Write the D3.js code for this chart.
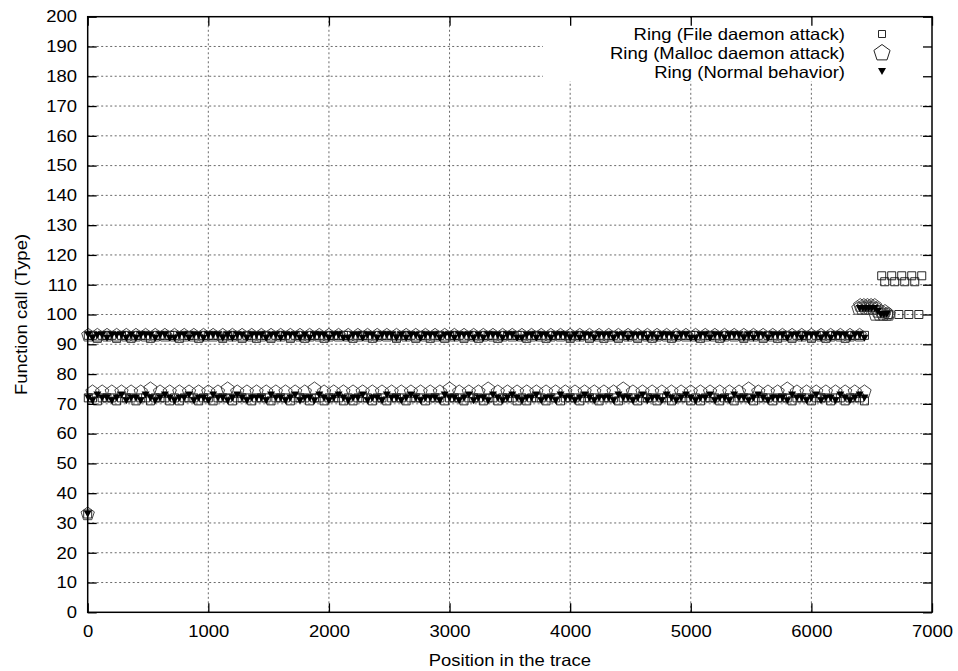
<!DOCTYPE html>
<html>
<head>
<meta charset="utf-8">
<script src="https://cdn.jsdelivr.net/npm/d3@7"></script>
<style>
  body { margin: 0; background: #fff; }
  svg { display: block; }
  text { font-family: "Liberation Sans", Arial, Helvetica, sans-serif; fill: #000; }
</style>
</head>
<body>
<svg id="chart" width="958" height="671"></svg>
<script>
// ---- axis ticks ----
const xTicks = [0, 1000, 2000, 3000, 4000, 5000, 6000, 7000];
const yTicks = [0, 10, 20, 30, 40, 50, 60, 70, 80, 90, 100, 110, 120, 130, 140, 150, 160, 170, 180, 190, 200];

// ---- series names (legend order) ----
const seriesNames = ["Ring (File daemon attack)", "Ring (Malloc daemon attack)", "Ring (Normal behavior)"];

// ---- sampled positions in the trace (shared by the three runs) ----
const tracePos = [
  0, 5, 40, 80, 120, 160, 200, 240, 280, 320, 360, 400, 440, 480, 520, 560, 600, 640, 680, 720, 760, 800, 840, 880, 920, 960,
  1000, 1040, 1080, 1120, 1160, 1200, 1240, 1280, 1320, 1360, 1400, 1440, 1480, 1520, 1560, 1600, 1640, 1680, 1720, 1760, 1800, 1840, 1880, 1920, 1960,
  2000, 2040, 2080, 2120, 2160, 2200, 2240, 2280, 2320, 2360, 2400, 2440, 2480, 2520, 2560, 2600, 2640, 2680, 2720, 2760, 2800, 2840, 2880, 2920, 2960,
  3000, 3040, 3080, 3120, 3160, 3200, 3240, 3280, 3320, 3360, 3400, 3440, 3480, 3520, 3560, 3600, 3640, 3680, 3720, 3760, 3800, 3840, 3880, 3920, 3960,
  4000, 4040, 4080, 4120, 4160, 4200, 4240, 4280, 4320, 4360, 4400, 4440, 4480, 4520, 4560, 4600, 4640, 4680, 4720, 4760, 4800, 4840, 4880, 4920, 4960,
  5000, 5040, 5080, 5120, 5160, 5200, 5240, 5280, 5320, 5360, 5400, 5440, 5480, 5520, 5560, 5600, 5640, 5680, 5720, 5760, 5800, 5840, 5880, 5920, 5960,
  6000, 6040, 6080, 6120, 6160, 6200, 6240, 6280, 6320, 6360, 6400, 6440
];

// ---- call types at each sampled position: upper call (~93) and lower call (~72) ----
const fileUpper = [33,
  93,93,92,93,93,93,92,93,93,92,93,93,93,92,93,93,93,93,
  93,92,93,93,93,92,93,93,93,93,92,93,93,93,92,93,93,92,
  93,93,92,93,93,93,92,93,93,92,93,93,93,92,93,93,93,93,
  93,92,93,93,93,92,93,93,93,93,92,93,93,93,92,93,93,92,
  93,93,92,93,93,93,92,93,93,92,93,93,93,92,93,93,93,93,
  93,92,93,93,93,92,93,93,93,93,92,93,93,93,92,93,93,92,
  93,93,92,93,93,93,92,93,93,92,93,93,93,92,93,93,93,93,
  93,92,93,93,93,92,93,93,93,93,92,93,93,93,92,93,93,92,
  93,93,92,93,93,93,92,93,93,92,93,93,93,92,93,93,93,93
];
const fileLower = [null,
  72,72,71,72,72,72,71,72,72,72,71,72,72,71,72,72,72,71,
  72,71,72,72,72,71,72,72,71,72,72,72,71,72,72,72,71,72,
  72,72,71,72,72,72,71,72,72,72,71,72,72,71,72,72,72,71,
  72,71,72,72,72,71,72,72,71,72,72,72,71,72,72,72,71,72,
  72,72,71,72,72,72,71,72,72,72,71,72,72,71,72,72,72,71,
  72,71,72,72,72,71,72,72,71,72,72,72,71,72,72,72,71,72,
  72,72,71,72,72,72,71,72,72,72,71,72,72,71,72,72,72,71,
  72,71,72,72,72,71,72,72,71,72,72,72,71,72,72,72,71,72,
  72,72,71,72,72,72,71,72,72,72,71,72,72,71,72,72,72,71
];
const mallocVals = [33,
  93,74, 93,74, 93,74, 93,74, 93,74, 93,74, 93,75, 93,74, 93,74, 93,74,
  93,74, 93,74, 93,74, 93,74, 93,75, 93,74, 93,74, 93,74, 93,74, 93,74,
  93,74, 93,74, 93,74, 93,75, 93,74, 93,74, 93,74, 93,74, 93,74, 93,74,
  93,74, 93,74, 93,74, 93,74, 93,74, 93,74, 93,74, 93,75, 93,74, 93,74,
  93,74, 93,75, 93,74, 93,74, 93,74, 93,74, 93,74, 93,74, 93,74, 93,74,
  93,74, 93,74, 93,74, 93,74, 93,74, 93,75, 93,74, 93,74, 93,74, 93,74,
  93,74, 93,74, 93,74, 93,74, 93,74, 93,74, 93,74, 93,74, 93,75, 93,74,
  93,74, 93,74, 93,75, 93,74, 93,74, 93,74, 93,74, 93,74, 93,74, 93,74,
  93,74
];
const normalUpper = [33,
  93,92,93,93,92,93,93,93,92,93,92,93,93,93,92,93,93,92,
  92,93,93,92,93,93,92,93,93,93,92,93,92,93,93,92,93,93,
  93,92,93,93,92,93,93,93,92,93,92,93,93,93,92,93,93,92,
  92,93,93,92,93,93,92,93,93,93,92,93,92,93,93,92,93,93,
  93,92,93,93,92,93,93,93,92,93,92,93,93,93,92,93,93,92,
  92,93,93,92,93,93,92,93,93,93,92,93,92,93,93,92,93,93,
  93,92,93,93,92,93,93,93,92,93,92,93,93,93,92,93,93,92,
  92,93,93,92,93,93,92,93,93,93,92,93,92,93,93,92,93,93,
  93,92,93,93,92,93,93,93,92,93,92,93,93,93,92,93,93,92
];
const normalLower = [null,
  72,71,73,72,72,71,72,73,71,72,72,71,73,72,71,72,73,72,
  71,72,72,73,71,72,72,71,73,72,72,71,72,73,72,71,72,72,
  72,71,73,72,72,71,72,73,71,72,72,71,73,72,71,72,73,72,
  71,72,72,73,71,72,72,71,73,72,72,71,72,73,72,71,72,72,
  72,71,73,72,72,71,72,73,71,72,72,71,73,72,71,72,73,72,
  71,72,72,73,71,72,72,71,73,72,72,71,72,73,72,71,72,72,
  72,71,73,72,72,71,72,73,71,72,72,71,73,72,71,72,73,72,
  71,72,72,73,71,72,72,71,73,72,72,71,72,73,72,71,72,72,
  72,71,73,72,72,71,72,73,71,72,72,71,73,72,71,72,73,72
];

// ---- calls after the shared part of the trace ----
const fileTailPos = [6583, 6608, 6640, 6666, 6691, 6725, 6749, 6774, 6808, 6832, 6857, 6891, 6915];
const fileTailVals = [113, 111, 100, 113, 111, 100, 113, 111, 100, 113, 111, 100, 113];
const mallocTailPos = [6390, 6405, 6420, 6435, 6450, 6465, 6480, 6495, 6510, 6525, 6540, 6530, 6550, 6565, 6580, 6595, 6610, 6625, 6640];
const mallocTailVals = [102, 103, 102, 103, 102, 103, 102, 103, 102, 103, 102, 100, 101, 100, 101, 100, 101, 100, 100];
const normalTailPos = [6400, 6425, 6450, 6475, 6500, 6525, 6550, 6575, 6600, 6625];
const normalTailVals = [102, 102, 102, 102, 102, 102, 101, 100, 100, 100];

// ---- layout ----
const svg = d3.select("#chart");
const x = d3.scaleLinear().domain([0, 7000]).range([87.7, 932]);
const y = d3.scaleLinear().domain([0, 200]).range([612.3, 16.7]);
const SX = 1.12;          // horizontal stretch of the lettering
const FS = 16.5;          // font size

const toPoints = (pos, vals) => pos.map((p, i) => ({ p, v: vals[i] })).filter(d => d.v != null);
const fileData = toPoints(tracePos, fileUpper)
  .concat(toPoints(tracePos, fileLower), toPoints(fileTailPos, fileTailVals));
const mallocData = toPoints(tracePos, mallocVals).concat(toPoints(mallocTailPos, mallocTailVals));
const normalData = toPoints(tracePos, normalUpper)
  .concat(toPoints(tracePos, normalLower), toPoints(normalTailPos, normalTailVals));

// ---- grid ----
const grid = svg.append("g").attr("stroke", "#444").attr("stroke-width", 0.8).attr("stroke-dasharray", "2,2.5");
grid.selectAll("line.gx").data(xTicks.slice(1, -1)).join("line")
  .attr("x1", d => x(d)).attr("x2", d => x(d)).attr("y1", y(0)).attr("y2", y(200));
grid.selectAll("line.gy").data(yTicks.slice(1, -1)).join("line")
  .attr("x1", x(0)).attr("x2", x(7000)).attr("y1", d => y(d)).attr("y2", d => y(d));

// opaque key box
svg.append("rect").attr("x", 543).attr("y", 18).attr("width", 388).attr("height", 63).attr("fill", "#fff");

// ---- point shapes ----
const squarePath = s => `M${-s},${-s}h${2 * s}v${2 * s}h${-2 * s}Z`;
const pentagonPath = r => {
  const pts = d3.range(5).map(k => {
    const a = -Math.PI / 2 + k * 2 * Math.PI / 5;
    return [r * Math.cos(a), r * Math.sin(a)];
  });
  return "M" + pts.map(p => p[0].toFixed(2) + "," + p[1].toFixed(2)).join("L") + "Z";
};
const triDownPath = (w, h) => `M${-w / 2},${-h / 2}L${w / 2},${-h / 2}L0,${h / 2}Z`;

const SQ = squarePath(4);
const PENT = pentagonPath(7);
const TRI = triDownPath(8, 7);

function drawPoints(data, d, fill, stroke, sw) {
  svg.append("g").selectAll("path").data(data).join("path")
    .attr("d", d)
    .attr("transform", e => `translate(${x(e.p)},${y(e.v)})`)
    .attr("fill", fill).attr("stroke", stroke).attr("stroke-width", sw);
}
drawPoints(fileData, SQ, "none", "#111", 0.9);
drawPoints(mallocData, PENT, "none", "#333", 0.9);
drawPoints(normalData, TRI, "#000", "none", 0);

// ---- axes (inward ticks on all four sides) ----
function styleText(g) {
  g.selectAll("text").attr("font-size", FS).attr("fill", "#000")
    .attr("font-family", '"Liberation Sans", Arial, Helvetica, sans-serif')
    .attr("transform", `scale(${SX},1)`);
}
const axisL = svg.append("g").attr("transform", `translate(${x(0)},0)`)
  .call(d3.axisLeft(y).tickValues(yTicks).tickSize(-9).tickPadding(9.5).tickFormat(d3.format("d")));
const axisB = svg.append("g").attr("transform", `translate(0,${y(0)})`)
  .call(d3.axisBottom(x).tickValues(xTicks).tickSize(-9).tickPadding(13).tickFormat(d3.format("d")));
const axisR = svg.append("g").attr("transform", `translate(${x(7000)},0)`)
  .call(d3.axisRight(y).tickValues(yTicks).tickSize(-9).tickFormat(""));
const axisT = svg.append("g").attr("transform", `translate(0,${y(200)})`)
  .call(d3.axisTop(x).tickValues(xTicks).tickSize(-9).tickFormat(""));
[axisL, axisB, axisR, axisT].forEach(g => {
  g.select(".domain").remove();
  g.selectAll(".tick line").attr("stroke", "#000").attr("stroke-width", 1.3);
  styleText(g);
});

// frame
svg.append("rect").attr("x", x(0)).attr("y", y(200))
  .attr("width", x(7000) - x(0)).attr("height", y(0) - y(200))
  .attr("fill", "none").attr("stroke", "#000").attr("stroke-width", 1.5);

// ---- axis titles ----
svg.append("text")
  .attr("transform", `translate(${(x(0) + x(7000)) / 2},666) scale(${SX},1)`)
  .attr("text-anchor", "middle").attr("font-size", FS)
  .text("Position in the trace");
svg.append("text")
  .attr("transform", `translate(27,${(y(0) + y(200)) / 2}) rotate(-90) scale(${SX},1)`)
  .attr("text-anchor", "middle").attr("font-size", FS)
  .text("Function call (Type)");

// ---- key ----
const keyShapes = [
  { d: squarePath(3.5), fill: "none", stroke: "#111", sw: 0.9 },
  { d: pentagonPath(8.5), fill: "none", stroke: "#222", sw: 1 },
  { d: TRI, fill: "#000", stroke: "none", sw: 0 }
];
const keyRowY = [34, 53, 71.5];
seriesNames.forEach((name, i) => {
  svg.append("text")
    .attr("transform", `translate(845,${keyRowY[i] + 6}) scale(${SX},1)`)
    .attr("text-anchor", "end").attr("font-size", FS)
    .text(name);
  svg.append("path")
    .attr("d", keyShapes[i].d)
    .attr("transform", `translate(882,${keyRowY[i]})`)
    .attr("fill", keyShapes[i].fill).attr("stroke", keyShapes[i].stroke).attr("stroke-width", keyShapes[i].sw);
});
</script>
</body>
</html>
